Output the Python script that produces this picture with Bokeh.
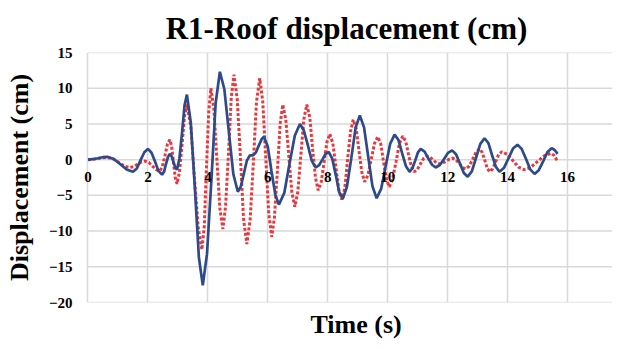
from bokeh.plotting import figure
from bokeh.models import Title, FixedTicker, Range1d
from bokeh.embed import file_html
from bokeh.resources import INLINE

# ---- data (time in s, displacement in cm) ----
blue_t = [0.0, 0.16, 0.33, 0.49, 0.65, 0.86, 1.08, 1.29, 1.5, 1.63, 1.75, 1.88, 2.0,
          2.12, 2.24, 2.35, 2.47, 2.54, 2.6, 2.67, 2.73, 2.79, 2.85, 2.91, 2.97,
          3.05, 3.14, 3.22, 3.3, 3.43, 3.57, 3.7, 3.83, 3.97, 4.12, 4.26, 4.4,
          4.55, 4.7, 4.85, 5.0, 5.1, 5.2, 5.3, 5.4, 5.5, 5.6, 5.7, 5.8, 5.87,
          6.0, 6.12, 6.25, 6.37, 6.55, 6.72, 6.9, 7.07, 7.2, 7.34, 7.47, 7.6,
          7.71, 7.82, 7.92, 8.03, 8.15, 8.27, 8.38, 8.5, 8.64, 8.79, 8.93, 9.07,
          9.21, 9.35, 9.49, 9.63, 9.78, 9.93, 10.08, 10.23, 10.36, 10.48, 10.61, 10.73,
          10.82, 10.92, 11.01, 11.1, 11.23, 11.35, 11.48, 11.6, 11.74, 11.88, 12.01, 12.15,
          12.28, 12.41, 12.54, 12.67, 12.81, 12.95, 13.09, 13.23, 13.36, 13.48, 13.61, 13.73,
          13.88, 14.03, 14.18, 14.33, 14.47, 14.62, 14.76, 14.9, 15.04, 15.19, 15.33, 15.47,
          15.57, 15.67]
blue_d = [0.0, 0.06, 0.2, 0.34, 0.4, 0.09, -0.65, -1.39, -1.7, -1.23, -0.1, 1.03, 1.5,
          0.97, -0.3, -1.57, -2.1, -1.68, -0.65, 0.38, 0.8, 0.48, -0.3, -1.08, -1.4,
          0.13, 3.85, 7.57, 9.1, 5.2, -4.25, -13.7, -17.6, -13.23, -2.65, 7.93, 12.3,
          9.85, 3.9, -2.05, -4.5, -3.75, -1.95, -0.15, 0.6, 0.6, 1.0, 2.0, 2.9, 3.2,
          1.81, -1.55, -4.91, -6.3, -4.65, -0.65, 3.35, 5.0, 4.11, 1.95, -0.21, -1.1,
          -0.78, 0.0, 0.78, 1.1, 0.14, -2.2, -4.54, -5.5, -3.79, 0.35, 4.49, 6.2,
          4.51, 0.4, -3.71, -5.4, -4.1, -0.95, 2.2, 3.5, 2.74, 0.9, -0.94, -1.7,
          -1.23, -0.1, 1.03, 1.5, 1.12, 0.2, -0.72, -1.1, -0.75, 0.1, 0.95, 1.3,
          0.76, -0.55, -1.86, -2.4, -1.61, 0.3, 2.21, 3.0, 2.31, 0.65, -1.01, -1.7,
          -1.15, 0.2, 1.55, 2.1, 1.5, 0.05, -1.4, -2.0, -1.47, -0.2, 1.07, 1.6,
          1.35, 0.8]

red_t = [0.0, 0.16, 0.33, 0.49, 0.65, 0.84, 1.03, 1.21, 1.4, 1.53, 1.65, 1.78, 1.9,
         2.03, 2.15, 2.28, 2.4, 2.48, 2.57, 2.65, 2.73, 2.79, 2.85, 2.91, 2.97,
         3.05, 3.14, 3.22, 3.3, 3.43, 3.55, 3.68, 3.8, 3.88, 3.95, 4.03, 4.1,
         4.2, 4.3, 4.4, 4.5, 4.59, 4.69, 4.78, 4.87, 4.98, 5.09, 5.19, 5.3,
         5.41, 5.52, 5.62, 5.73, 5.83, 5.93, 6.03, 6.13, 6.22, 6.32, 6.41, 6.5,
         6.6, 6.7, 6.8, 6.9, 7.0, 7.1, 7.2, 7.3, 7.4, 7.49, 7.59, 7.68,
         7.78, 7.88, 7.97, 8.07, 8.17, 8.27, 8.37, 8.47, 8.57, 8.66, 8.76, 8.85,
         8.95, 9.04, 9.14, 9.23, 9.34, 9.45, 9.56, 9.67, 9.77, 9.86, 9.96, 10.05,
         10.16, 10.28, 10.39, 10.5, 10.6, 10.69, 10.79, 10.88, 10.99, 11.09, 11.2, 11.3,
         11.41, 11.52, 11.62, 11.73, 11.84, 11.95, 12.06, 12.17, 12.28, 12.39, 12.49, 12.6,
         12.72, 12.84, 12.95, 13.07, 13.15, 13.24, 13.32, 13.4, 13.5, 13.6, 13.7, 13.8,
         13.99, 14.18, 14.36, 14.55, 14.78, 15.0, 15.23, 15.45, 15.55, 15.65]
red_d = [0.0, 0.04, 0.15, 0.26, 0.3, 0.1, -0.4, -0.9, -1.1, -0.97, -0.65, -0.33, -0.2,
         -0.4, -0.9, -1.4, -1.6, -0.96, 0.6, 2.16, 2.8, 1.89, -0.3, -2.49, -3.4,
         -1.78, 2.15, 6.08, 7.7, 4.74, -2.45, -9.64, -12.6, -9.3, -1.3, 6.7, 10.0,
         7.12, 0.15, -6.82, -9.7, -6.55, 1.1, 8.75, 11.9, 8.44, 0.05, -8.34, -11.8,
         -8.41, -0.2, 8.01, 11.4, 8.16, 0.3, -7.56, -10.8, -8.1, -1.55, 5.0, 7.7,
         5.61, 0.55, -4.51, -6.6, -4.51, 0.55, 5.61, 7.7, 5.95, 1.7, -2.55, -4.3,
         -3.15, -0.35, 2.45, 3.6, 2.26, -1.0, -4.26, -5.6, -3.96, 0.0, 3.96, 5.6,
         4.33, 1.25, -1.83, -3.1, -2.18, 0.05, 2.28, 3.2, 2.18, -0.3, -2.78, -3.8,
         -2.76, -0.25, 2.26, 3.3, 2.57, 0.8, -0.97, -1.7, -1.38, -0.6, 0.18, 0.5,
         0.34, -0.05, -0.44, -0.6, -0.48, -0.2, 0.08, 0.2, -0.02, -0.55, -1.08, -1.3,
         -0.89, 0.1, 1.09, 1.5, 1.03, -0.1, -1.23, -1.7, -1.29, -0.3, 0.69, 1.1,
         0.74, -0.15, -1.04, -1.4, -1.06, -0.25, 0.56, 0.9, 0.6, -0.1]

x_ticks = [0, 2, 4, 6, 8, 10, 12, 14, 16]
y_ticks = [-20, -15, -10, -5, 0, 5, 10, 15]
x_start, x_end = -0.25, 17.5

SERIF = "Liberation Serif"

p = figure(width=617, height=349, output_backend="svg", toolbar_location=None,
           x_range=Range1d(x_start, x_end), y_range=Range1d(-20, 15),
           min_border_left=80, min_border_right=5, min_border_top=52,
           min_border_bottom=47)
p.outline_line_color = None
p.background_fill_color = "white"
p.border_fill_color = "white"

p.title.text = "R1-Roof displacement (cm)"
p.title.align = "center"
p.title.text_font = SERIF
p.title.text_font_size = "31px"
p.title.text_font_style = "bold"
p.title.text_color = "black"
p.title.standoff = 14

# grid: vertical lines from the x grid, horizontal lines drawn from 0 onwards
p.xgrid.grid_line_color = "#d9d9d9"
p.xgrid.grid_line_width = 1.5
p.xgrid.ticker = FixedTicker(ticks=x_ticks)
p.ygrid.visible = False
n = len(y_ticks)
p.segment(x0=[0] * n, y0=y_ticks, x1=[x_end] * n, y1=y_ticks,
          line_color="#d9d9d9", line_width=1.5)

# x axis sitting at y = 0
xa = p.xaxis[0]
xa.ticker = FixedTicker(ticks=x_ticks)
xa.fixed_location = 0
xa.axis_line_color = None
xa.major_tick_line_color = None
xa.minor_tick_line_color = None
xa.major_label_text_font = SERIF
xa.major_label_text_font_size = "15px"
xa.major_label_text_font_style = "bold"
xa.major_label_text_color = "black"
xa.major_label_standoff = 6

p.add_layout(Title(text="Time (s)", align="left", offset=230, text_font=SERIF,
                   text_font_size="26px", text_font_style="bold",
                   text_color="black"), "below")

ya = p.yaxis[0]
ya.ticker = FixedTicker(ticks=y_ticks)
ya.axis_line_color = None
ya.major_tick_line_color = None
ya.minor_tick_line_color = None
ya.major_label_text_font = SERIF
ya.major_label_text_font_size = "15px"
ya.major_label_text_font_style = "bold"
ya.major_label_text_color = "black"
ya.major_label_standoff = 2
ya.axis_label = "Displacement (cm)"
ya.axis_label_text_font = SERIF
ya.axis_label_text_font_size = "26px"
ya.axis_label_text_font_style = "bold"
ya.axis_label_text_color = "black"
ya.axis_label_standoff = 12

p.line(red_t, red_d, line_color="#e8383d", line_width=3, line_dash="3 2")
p.line(blue_t, blue_d, line_color="#2e4a88", line_width=2.7)

open("out.html", "w").write(file_html(p, INLINE))
